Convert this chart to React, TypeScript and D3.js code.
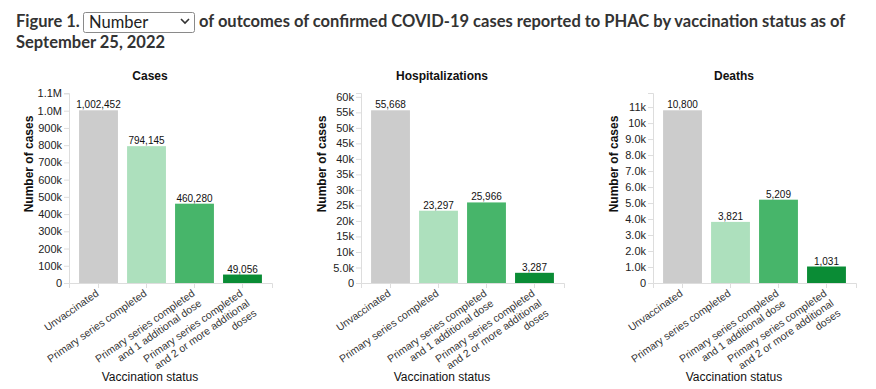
import React, { useEffect, useRef } from "react";
import * as d3 from "d3";

const categories = [
  "Unvaccinated",
  "Primary series completed",
  "Primary series completed and 1 additional dose",
  "Primary series completed and 2 or more additional doses",
];
const categoryLines = [
  ["Unvaccinated"],
  ["Primary series completed"],
  ["Primary series completed", "and 1 additional dose"],
  ["Primary series completed", "and 2 or more additional", "doses"],
];
const barColors = ["#cccccc", "#ade0bd", "#47b56a", "#0a8c35"];
const panelTitles = ["Cases", "Hospitalizations", "Deaths"];
const casesValues = [1002452, 794145, 460280, 49056];
const hospValues = [55668, 23297, 25966, 3287];
const deathValues = [10800, 3821, 5209, 1031];
const yAxisTitle = "Number of cases";
const xAxisTitle = "Vaccination status";

const W = 876;
const H = 389;
const FONT = "Arial, 'Liberation Sans', sans-serif";

export default function App() {
  const ref = useRef<SVGSVGElement | null>(null);

  useEffect(() => {
    const svg = d3.select(ref.current);
    svg.selectAll("g.panel").remove();
    const panels = [casesValues, hospValues, deathValues];
    const fmtTick = (d: number) => (d === 0 ? "0" : d3.format(".2s")(d));
    const fmtVal = d3.format(",");

    panels.forEach((vals, pi) => {
      const ox = pi * 292;
      const x0 = 69 + ox;
      const x1 = 272 + ox;
      const yTop = 93;
      const yBot = 283;
      const g = svg.append("g").attr("class", "panel");

      const x = d3
        .scaleBand<string>()
        .domain(categories)
        .range([x0, x1])
        .paddingInner(0.19)
        .paddingOuter(0.21);
      const y = d3
        .scaleLinear()
        .domain([0, (d3.max(vals) as number) * 1.1])
        .range([yBot, yTop]);

      // y axis
      const ya = g
        .append("g")
        .attr("transform", `translate(${x0},0)`)
        .call(d3.axisLeft(y).ticks(10).tickFormat(fmtTick as any).tickSize(5).tickSizeOuter(5));
      ya.selectAll("path, line").attr("stroke", "#dddddd");
      ya.selectAll("text")
        .attr("fill", "#222")
        .attr("font-size", 11)
        .attr("font-family", FONT)
        .attr("x", -7);

      // x axis
      const xa = g
        .append("g")
        .attr("transform", `translate(0,${yBot})`)
        .call(d3.axisBottom(x).tickSize(5).tickSizeOuter(5).tickFormat(() => ""));
      xa.selectAll("path, line").attr("stroke", "#dddddd");

      // bars
      g.selectAll("rect.bar")
        .data(vals)
        .enter()
        .append("rect")
        .attr("class", "bar")
        .attr("x", (_, i) => x(categories[i]) as number)
        .attr("width", x.bandwidth())
        .attr("y", (d) => y(d))
        .attr("height", (d) => yBot - y(d))
        .attr("fill", (_, i) => barColors[i]);

      // value labels
      g.selectAll("text.val")
        .data(vals)
        .enter()
        .append("text")
        .attr("class", "val")
        .attr("x", (_, i) => (x(categories[i]) as number) + x.bandwidth() / 2)
        .attr("y", (d) => y(d) - 2)
        .attr("text-anchor", "middle")
        .attr("font-size", 10)
        .attr("font-family", FONT)
        .attr("fill", "#111")
        .text((d) => fmtVal(d));

      // x category labels
      categoryLines.forEach((lines, i) => {
        const cx = (x(categories[i]) as number) + x.bandwidth() / 2;
        const t = g
          .append("text")
          .attr("transform", `translate(${cx + 1},${yBot + 12}) rotate(-35)`)
          .attr("text-anchor", "end")
          .attr("font-size", 10.5)
          .attr("font-family", FONT)
          .attr("fill", "#333");
        lines.forEach((ln, li) => {
          t.append("tspan").attr("x", 0).attr("y", li * 12).text(ln);
        });
      });

      // panel title
      g.append("text")
        .attr("x", 150 + ox)
        .attr("y", 80)
        .attr("text-anchor", "middle")
        .attr("font-size", 12)
        .attr("font-weight", "bold")
        .attr("font-family", FONT)
        .attr("fill", "#111")
        .text(panelTitles[pi]);

      // y title
      g.append("text")
        .attr("transform", `translate(${33 + ox - (pi > 0 ? -1 : 0)},164) rotate(-90)`)
        .attr("text-anchor", "middle")
        .attr("font-size", 12)
        .attr("font-weight", "bold")
        .attr("font-family", FONT)
        .attr("fill", "#111")
        .text(yAxisTitle);

      // x title
      g.append("text")
        .attr("x", 150 + ox)
        .attr("y", 381)
        .attr("text-anchor", "middle")
        .attr("font-size", 12)
        .attr("font-family", FONT)
        .attr("fill", "#111")
        .text(xAxisTitle);
    });
  }, []);

  const hFont = "Lato, 'Open Sans', sans-serif";
  return (
    <svg
      ref={ref}
      width={W}
      height={H}
      style={{ position: "absolute", left: 0, top: 0, background: "#fff" }}
    >
      <g fill="#333" fontFamily={hFont} fontSize={16.5} fontWeight="bold">
        <text x={16} y={27}>Figure 1.</text>
        <rect x={83.5} y={12.5} width={111} height={20} rx={2} fill="#fff" stroke="#8a8a8a" />
        <text x={89} y={28} fontWeight="normal" fill="#222">Number</text>
        <path d="M181,19 L185,23 L189,19" fill="none" stroke="#333" strokeWidth={1.6} />
        <text x={199} y={27}>of outcomes of confirmed COVID-19 cases reported to PHAC by vaccination status as of</text>
        <text x={16} y={48}>September 25, 2022</text>
      </g>
    </svg>
  );
}
